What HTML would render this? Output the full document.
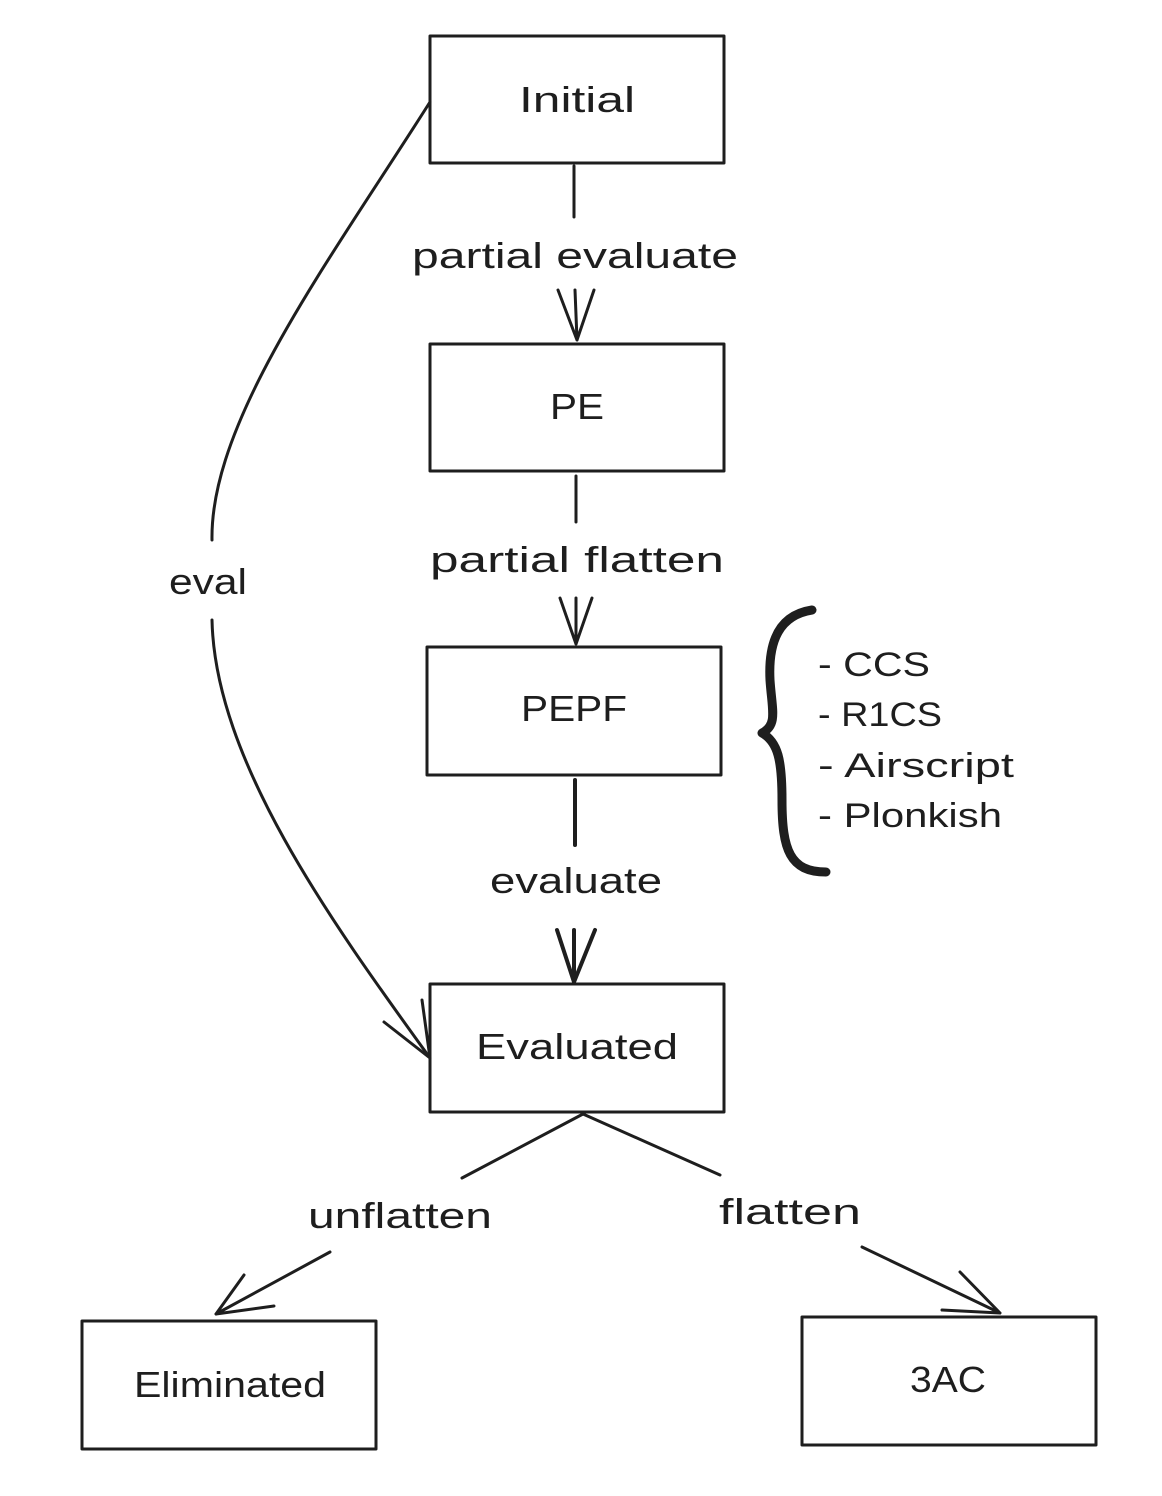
<!DOCTYPE html>
<html><head><meta charset="utf-8"><style>
html,body{margin:0;padding:0;background:#fff;}
svg{display:block;}
text{font-family:"Liberation Sans",sans-serif;fill:#1e1e1e;}
</style></head><body>
<svg width="1162" height="1496" viewBox="0 0 1162 1496" xmlns="http://www.w3.org/2000/svg">
<rect width="1162" height="1496" fill="#fff"/>
<g fill="none" stroke="#1e1e1e" stroke-width="3" stroke-linecap="round" stroke-linejoin="round">
<rect x="430" y="36" width="294" height="127"/>
<rect x="430" y="344" width="294" height="127"/>
<rect x="427" y="647" width="294" height="128"/>
<rect x="430" y="984" width="294" height="128"/>
<rect x="82" y="1321" width="294" height="128"/>
<rect x="802" y="1317" width="294" height="128"/>
<!-- Initial -> PE -->
<path d="M574 166 L574 217"/>
<path d="M575 290 L577 340 M558 290 L577 340 L594 290"/>
<!-- PE -> PEPF -->
<path d="M576 476 L576 522"/>
<path d="M576 598 L576 644 M560 598 L576 644 L592 598"/>
<!-- PEPF -> Evaluated -->
<path d="M575 780 L575 845" stroke-width="4"/>
<path d="M574 930 L574 982 M557 930 L574 982 L595 930" stroke-width="4"/>
<!-- eval curve -->
<path d="M430 102 C330 260 210 420 212 540"/>
<path d="M212 620 C215 760 330 920 430 1058"/>
<path d="M384 1022 L430 1058 L422 1000"/>
<!-- unflatten -->
<path d="M583 1114 L462 1178"/>
<path d="M330 1252 L216 1314 M244 1275 L216 1314 L274 1306"/>
<!-- flatten -->
<path d="M583 1114 L720 1175"/>
<path d="M862 1247 L1000 1313 M960 1272 L1000 1313 L942 1310"/>
<!-- brace -->
<path d="M812 610 C780 615 768 640 770 680 C772 710 778 725 762 733 C778 742 782 760 782 800 C782 850 790 872 826 872" stroke-width="9"/>
</g>
<g font-size="36" text-anchor="middle">
<text x="577" y="112" textLength="116" lengthAdjust="spacingAndGlyphs">Initial</text>
<text x="577" y="419" textLength="54" lengthAdjust="spacingAndGlyphs">PE</text>
<text x="574" y="721" textLength="106" lengthAdjust="spacingAndGlyphs">PEPF</text>
<text x="577" y="1059" textLength="202" lengthAdjust="spacingAndGlyphs">Evaluated</text>
<text x="230" y="1397" textLength="192" lengthAdjust="spacingAndGlyphs">Eliminated</text>
<text x="948" y="1392" textLength="76" lengthAdjust="spacingAndGlyphs">3AC</text>
<text x="575" y="268" textLength="326" lengthAdjust="spacingAndGlyphs">partial evaluate</text>
<text x="577" y="572" textLength="294" lengthAdjust="spacingAndGlyphs">partial flatten</text>
<text x="576" y="893" textLength="172" lengthAdjust="spacingAndGlyphs">evaluate</text>
<text x="208" y="594" textLength="78" lengthAdjust="spacingAndGlyphs">eval</text>
<text x="400" y="1228" textLength="184" lengthAdjust="spacingAndGlyphs">unflatten</text>
<text x="790" y="1224" textLength="142" lengthAdjust="spacingAndGlyphs">flatten</text>
</g>
<g font-size="34">
<text x="818" y="676" textLength="112" lengthAdjust="spacingAndGlyphs">- CCS</text>
<text x="818" y="726" textLength="124" lengthAdjust="spacingAndGlyphs">- R1CS</text>
<text x="818" y="777" textLength="196" lengthAdjust="spacingAndGlyphs">- Airscript</text>
<text x="818" y="827" textLength="184" lengthAdjust="spacingAndGlyphs">- Plonkish</text>
</g>
</svg>
</body></html>
